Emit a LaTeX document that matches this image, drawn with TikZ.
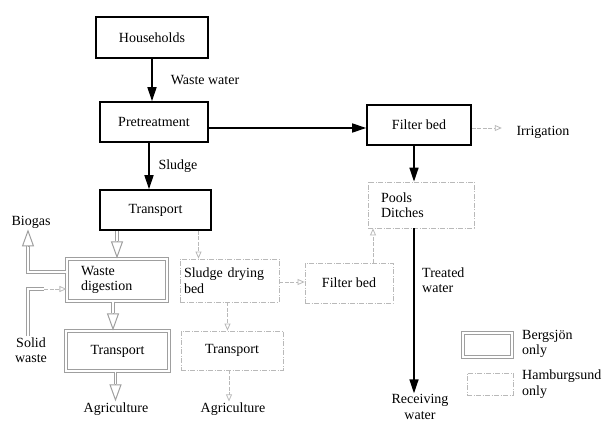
\documentclass[tikz,border=0pt]{standalone}
\usepackage{fontspec}
\setmainfont{Liberation Serif}
\usetikzlibrary{arrows.meta,calc}
\begin{document}
\begin{tikzpicture}[x=1pt,y=-1pt,
  every node/.style={font=\fontsize{14}{15.5}\selectfont},
  mainbox/.style={draw=black,line width=1.6pt,inner sep=0pt,align=center},
  bbox/.style={draw=gray!75,double=white,double distance=1.6pt,line width=1.1pt,inner sep=0pt},
  hbox/.style={draw=gray!55,line width=0.8pt,dash pattern=on 5pt off 1.5pt on 1pt off 1.5pt,inner sep=0pt},
  lbl/.style={inner sep=1pt,align=left},
  arr/.style={line width=1.6pt,-{Triangle[length=14pt,width=9pt]}},
  bshaft/.style={draw=gray!75,double=white,double distance=1.6pt,line width=1pt},
  bhead/.style={draw=gray!75,line width=1pt,-{Triangle[open,length=17pt,width=12pt]}},
  harr/.style={draw=gray!55,line width=0.8pt,dash pattern=on 4pt off 1.5pt,-{Triangle[open,length=7pt,width=6pt]}}
]
\useasboundingbox (0,0) rectangle (611,425);

% main boxes
\node[mainbox,minimum width=112pt,minimum height=41pt] (hh) at (152,37.5) {Households};
\node[mainbox,minimum width=108pt,minimum height=40pt] (pre) at (154,122) {Pretreatment};
\node[mainbox,minimum width=111pt,minimum height=40pt] (tr1) at (155.5,210) {Transport};
\node[mainbox,minimum width=104pt,minimum height=40pt] (fb1) at (419,125) {Filter bed};

% Hamburgsund boxes
\node[hbox,minimum height=46pt,text width=80pt,inner xsep=13pt,align=left] (pools) at (421,205) {Pools\\Ditches};
\node[hbox,minimum height=43pt,text width=91pt,inner xsep=4pt,align=left] (sdb) at (229.5,280.5) {Sludge drying\\bed};
\node[hbox,minimum width=88pt,minimum height=40pt] (fb2) at (349,283) {Filter bed};
\node[hbox,minimum width=102pt,minimum height=39pt] (tr3) at (232,350.5) {Transport};

% Bergsjon boxes
\node[bbox,minimum height=42pt,text width=72pt,inner xsep=14pt,align=left] (wd) at (117,280) {Waste\\digestion};
\node[bbox,minimum width=103pt,minimum height=40pt] (tr2) at (117.5,351) {Transport};

% labels
\node[lbl] (ww) at (205,80) {Waste water};
\node[lbl] (sl) at (178,166) {Sludge};
\node[lbl] (irr) at (543,132) {Irrigation};
\node[lbl,anchor=west] (tw) at (421,280) {Treated\\water};
\node[lbl,align=center] (rw) at (420,407) {Receiving\\water};
\node[lbl] (bg) at (31,222) {Biogas};
\node[lbl,align=center] (sw) at (31,350) {Solid\\waste};
\node[lbl] (ag1) at (116,409) {Agriculture};
\node[lbl] (ag2) at (233,409) {Agriculture};

% legend
\node[bbox,minimum width=49pt,minimum height=24pt] (lb) at (487.5,345) {};
\node[hbox,minimum width=46pt,minimum height=22pt] (lh) at (490,384) {};
\node[lbl,anchor=west] (lbt) at (521,344) {Bergsjön\\only};
\node[lbl,anchor=west] (lht) at (521,384) {Hamburgsund\\only};

% black arrows
\draw[arr] (hh.south) -- (hh.south |- pre.north);
\coordinate (p1) at ([xshift=-5pt]pre.south);
\draw[arr] (p1) -- (p1 |- tr1.north);
\coordinate (p2) at ([yshift=-6pt]pre.east);
\draw[arr] (p2) -- (p2 -| fb1.west);
\coordinate (f1) at ([xshift=-5pt]fb1.south);
\draw[arr] (f1) -- (f1 |- pools.north);
\coordinate (q1) at ([xshift=-7pt]pools.south);
\draw[arr] (q1) -- (q1 |- rw.north);

% Hamburgsund arrows
\coordinate (i1) at ([yshift=-3pt]fb1.east);
\draw[harr] (i1) -- ++(30,0);
\coordinate (s0) at ([xshift=-31pt]sdb.north);
\draw[harr] (s0 |- tr1.south) -- (s0);
\coordinate (s1) at ([xshift=-2pt]sdb.south);
\draw[harr] (s1) -- (s1 |- tr3.north);
\coordinate (s2) at ([xshift=-3pt]tr3.south);
\draw[harr] (s2) -- (s2 |- ag2.north);
\coordinate (s3) at ([yshift=-1.5pt]sdb.east);
\draw[harr] (s3) -- (s3 -| fb2.west);
\coordinate (s4) at ([xshift=-48pt]pools.south);
\draw[harr] (s4 |- fb2.north) -- (s4);

% Bergsjon arrows
\draw[bshaft] (wd.north |- tr1.south) -- ([yshift=17pt]wd.north);
\draw[bhead] ([yshift=17pt]wd.north) -- (wd.north);
\coordinate (w1) at ([xshift=-4pt]wd.south);
\draw[bshaft] (w1) -- ([yshift=17pt]w1 |- tr2.north);
\draw[bhead] ([yshift=17pt]w1 |- tr2.north) -- (w1 |- tr2.north);
\coordinate (t2) at ([xshift=-2pt]tr2.south);
\draw[bshaft] (t2) -- ([yshift=17pt]t2 |- ag1.north);
\draw[bhead] ([yshift=17pt]t2 |- ag1.north) -- (t2 |- ag1.north);

% biogas
\coordinate (b0) at ([yshift=8pt]wd.west);
\coordinate (b1) at ([xshift=-3pt]bg.south);
\draw[bshaft] (b0) -- (b0 -| b1) -- ([yshift=-17pt]b1);
\draw[bhead] ([yshift=-17pt]b1) -- (b1);

% solid waste
\coordinate (sw0) at ([xshift=-3pt]sw.north);
\coordinate (sw1) at ([yshift=-9pt]wd.west);
\coordinate (sw2) at ([xshift=-22pt]sw1);
\draw[bshaft] (sw0) -- (sw0 |- sw1) -- (sw2);
\draw[harr] (sw2) -- (sw1);
\end{tikzpicture}
\end{document}
